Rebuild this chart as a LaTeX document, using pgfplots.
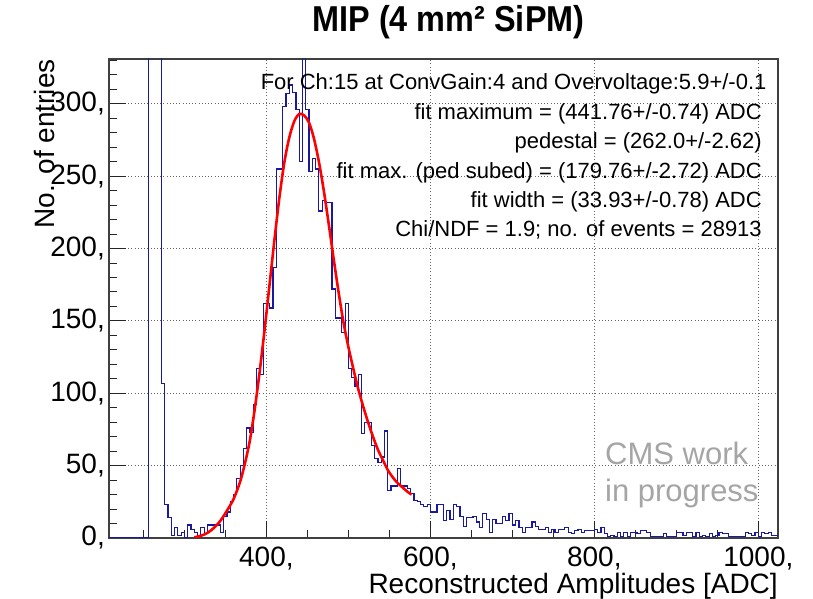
\documentclass[border=0pt]{standalone}
\usepackage{fontspec}
\setmainfont{Liberation Sans}
\newfontfamily\titlefont[FakeStretch=0.9]{Liberation Sans}
\usepackage{pgfplots}
\pgfplotsset{compat=1.18}
\definecolor{histblue}{RGB}{25,25,160}
\definecolor{cmsgray}{RGB}{165,165,165}
\begin{document}
\begin{tikzpicture}
\useasboundingbox (0pt,0pt) rectangle (813pt,599pt);
\begin{axis}[
  at={(109pt,61pt)}, anchor=south west,
  width=669pt, height=479pt, scale only axis,
  xmin=208, xmax=1024, ymin=0, ymax=331,
  axis line style={black!75, line width=1.1pt},
  xtick={400,600,800,1000},
  xticklabels={{400,},{600,},{800,},{1000,}},
  minor xtick={250,300,350,450,500,550,650,700,750,850,900,950},
  ytick={0,50,100,150,200,250,300},
  yticklabels={{0,},{50,},{100,},{150,},{200,},{250,},{300,}},
  minor ytick={10,20,...,330},
  xtick pos=bottom, ytick pos=left,
  tick align=inside,
  major tick length=17pt, minor tick length=8pt,
  tick style={black!85, line width=1pt},
  grid=major,
  major grid style={black!60, line width=0.9pt, dash pattern=on 1pt off 2.2pt},
  ticklabel style={font=\fontsize{28}{30}\selectfont},
  /pgf/number format/assume math mode=true,
  xticklabel style={anchor=north, inner sep=0pt, yshift=-9pt},
  yticklabel style={anchor=east, inner sep=0pt, xshift=-4pt},
  xlabel={Reconstructed Amplitudes [ADC]},
  xlabel style={font=\fontsize{28}{30}\selectfont, at={(rel axis cs:1,0)}, anchor=base east, inner sep=0pt, yshift=-55pt},
  ylabel={No. of entries},
  ylabel style={font=\fontsize{28}{30}\selectfont, at={(rel axis cs:-0.0822,1)}, anchor=base east, inner sep=0pt},
  title={MIP (4 mm² SiPM)},
  title style={font=\titlefont\bfseries\fontsize{36}{40}\selectfont, at={(rel axis cs:0.5,1)}, anchor=base, inner sep=0pt, yshift=21.5pt, xshift=5pt},
]
\addplot[const plot, histblue, line width=1.2pt] coordinates {
(208,0) (252,0) (256,2000) (260,2000) (264,2000) (268,1500) (272,107) (276,23) (280,14) (284,2) (288,7) (292,2) (296,4) (300,0) (304,9) (308,6) (312,4) (316,1) (320,7) (324,3) (328,9) (332,9) (336,9) (340,9) (344,4) (348,15) (352,18) (356,25) (360,30) (364,41) (368,50) (372,62) (376,76) (380,73) (384,92) (388,117) (392,113) (396,162) (400,162) (404,159) (408,187) (412,255) (416,255) (420,298) (424,307) (428,313) (432,308) (436,296) (440,260) (444,360) (448,296) (452,253) (456,262) (460,255) (464,226) (468,233) (472,232) (476,232) (480,172) (484,152) (488,152) (492,142) (496,162) (500,117) (504,111) (508,105) (512,113) (516,72) (520,80) (524,80) (528,64) (532,55) (536,52) (540,56) (544,74) (548,33) (552,36) (556,36) (560,48) (564,36) (568,36) (572,34) (576,31) (580,26) (584,25) (588,23) (592,22) (596,23) (600,18) (604,18) (608,23) (612,23) (616,12) (620,19) (624,13) (628,23) (632,22) (636,15) (640,8) (644,14) (648,14) (652,15) (656,11) (660,7) (664,17) (668,13) (672,4) (676,13) (680,10) (684,10) (688,15) (692,12) (696,17) (700,9) (704,12) (708,7) (712,4) (716,7) (720,7) (724,11) (728,8) (732,6) (736,6) (740,7) (744,4) (748,6) (752,4) (756,6) (760,6) (764,7) (768,4) (772,3) (776,5) (780,6) (784,4) (788,5) (792,5) (796,5) (800,6) (804,4) (808,7) (812,3) (816,1) (820,2) (824,1) (828,4) (832,1) (836,4) (840,1) (844,4) (848,4) (852,3) (856,5) (860,5) (864,4) (868,1) (872,1) (876,1) (880,1) (884,3) (888,1) (892,1) (896,1) (900,4) (904,4) (908,2) (912,4) (916,4) (920,1) (924,4) (928,1) (932,2) (936,1) (940,3) (944,1) (948,2) (952,4) (956,3) (960,3) (964,1) (968,1) (972,1) (976,1) (980,1) (984,4) (988,3) (992,2) (996,4) (1000,1) (1004,4) (1008,3) (1012,4) (1016,2) (1020,2) (1024,2)
};
\addplot[red, line width=2.6pt, smooth] coordinates {
(312,0.5) (320,1.5) (328,3.5) (336,7) (344,12) (352,19) (360,27) (368,39) (374,52) (380,68) (386,90) (392,116) (398,145) (404,176) (410,207) (416,236) (422,260) (428,277) (434,288) (440,293) (446,292) (452,287) (458,276) (464,260) (470,240) (476,217) (482,193) (488,170) (494,149) (500,132) (506,117) (512,103) (518,91) (524,80) (530,70) (536,61) (542,54) (548,47) (554,42) (560,38) (566,35) (572,32) (577,30)
};
\node[anchor=base east, inner sep=0pt, font=\fontsize{22}{26}\selectfont] at (rel axis cs:0.983,0.9353) {For Ch:15 at ConvGain:4 and Overvoltage:5.9+/-0.1};
\node[anchor=base east, inner sep=0pt, font=\fontsize{22}{26}\selectfont] at (rel axis cs:0.976,0.8739) {fit maximum = (441.76+/-0.74) ADC};
\node[anchor=base east, inner sep=0pt, font=\fontsize{22}{26}\selectfont] at (rel axis cs:0.976,0.8125) {pedestal = (262.0+/-2.62)};
\node[anchor=base east, inner sep=0pt, font=\fontsize{22}{26}\selectfont] at (rel axis cs:0.976,0.7511) {fit max. (ped subed) = (179.76+/-2.72) ADC};
\node[anchor=base east, inner sep=0pt, font=\fontsize{22}{26}\selectfont] at (rel axis cs:0.976,0.6898) {fit width = (33.93+/-0.78) ADC};
\node[anchor=base east, inner sep=0pt, font=\fontsize{22}{26}\selectfont] at (rel axis cs:0.976,0.6284) {Chi/NDF = 1.9; no. of events = 28913};
\node[anchor=base west, inner sep=0pt, text=cmsgray, font=\fontsize{31}{34}\selectfont] at (rel axis cs:0.7414,0.1524) {CMS work};
\node[anchor=base west, inner sep=0pt, text=cmsgray, font=\fontsize{31}{34}\selectfont] at (rel axis cs:0.7414,0.0758) {in progress};
\end{axis}
\end{tikzpicture}
\end{document}
